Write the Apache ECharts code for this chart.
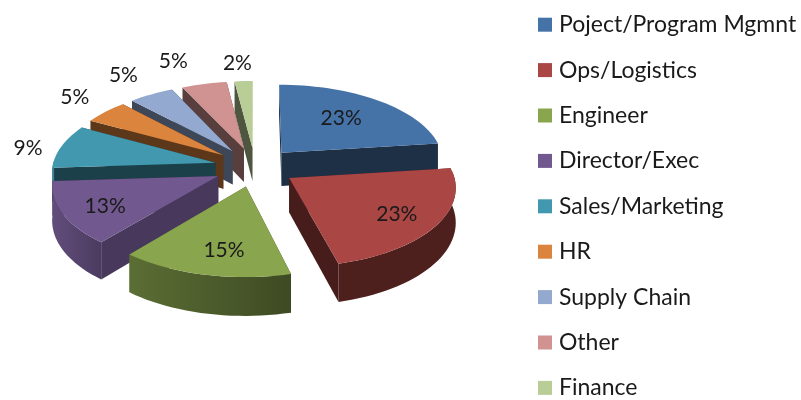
<!DOCTYPE html>
<html>
<head>
<meta charset="utf-8">
<style>
    html, body { margin: 0; padding: 0; background: #fff; }
    #chart { width: 801px; height: 400px; }
</style>
<script src="https://cdn.jsdelivr.net/npm/echarts@6/dist/echarts.min.js"></script>
</head>
<body>
<div id="chart"></div>
<script>
(function() {
    'use strict';

    var categories = ['Poject/Program Mgmnt', 'Ops/Logistics', 'Engineer', 'Director/Exec', 'Sales/Marketing', 'HR', 'Supply Chain', 'Other', 'Finance'];
    var shares = [23, 23, 15, 13, 9, 5, 5, 5, 2];
    var colors = ['#4572a7', '#aa4643', '#89a54e', '#71588f', '#4198af', '#db843d', '#93a9cf', '#d19392', '#b9cd96'];

    // percent labels: how far out in pie radii, and a small turn in degrees off the slice middle
    var labelReach = [0.88, 1.0, 0.98, 1.0, 1.45, 1.57, 1.63, 1.68, 1.55];
    var labelTurn = [-1.5, 0.7, -2.5, -2, -2.5, 1.5, 0, -4, -1];

    // fake 3d: perspective projection of a tilted disc
    var cx = 255, cy = 167;
    var rx = 163, tilt = 77.5, persp = 0.1;
    var depth = 34, explode = 0.25;

    var total = shares.reduce(function(a, b) { return a + b; }, 0);

    function project(u, v, drop) {
        var s = 1 / (1 - persp * v);
        return [cx + rx * u * s, cy + (tilt * v + (drop ? depth : 0)) * s];
    }

    function mix(hex, f) {
        var n = parseInt(hex.slice(1), 16);
        var r = Math.round((n >> 16 & 255) * f);
        var g = Math.round((n >> 8 & 255) * f);
        var b = Math.round((n & 255) * f);
        return 'rgb(' + r + ',' + g + ',' + b + ')';
    }

    // outer wall gets lighter as it turns to the left
    function wallShade(a) {
        var deg = a * 180 / Math.PI;
        var t = Math.min(1, Math.max(0, (deg - 170) / 96));
        return 0.45 + t * 0.42;
    }

    // cut walls are dark, except the one that catches the light at the lower left
    function cutShade(a) {
        var deg = a * 180 / Math.PI;
        return deg > 200 && deg < 240 ? 0.64 : 0.42;
    }

    function sliceRender(index) {
        return function(params, api) {
            var before = shares.slice(0, index).reduce(function(a, b) { return a + b; }, 0);
            var value = api.value(0);
            var a0 = before / total * Math.PI * 2;
            var a1 = (before + value) / total * Math.PI * 2;
            var mid = (a0 + a1) / 2;
            var ox = Math.sin(mid) * explode, oy = -Math.cos(mid) * explode;
            var color = colors[index];

            function rim(a, drop) {
                return project(ox + Math.sin(a), oy - Math.cos(a), drop);
            }
            function arc(from, to, drop) {
                var pts = [];
                var steps = Math.max(4, Math.ceil((to - from) * 24));
                for (var i = 0; i <= steps; i++) {
                    pts.push(rim(from + (to - from) * i / steps, drop));
                }
                return pts;
            }
            function poly(points, fill) {
                return { type: 'polygon', shape: { points: points }, style: { fill: fill } };
            }

            var apex = project(ox, oy, false);
            var apexLow = project(ox, oy, true);
            var wall0 = poly([apex, rim(a0, false), rim(a0, true), apexLow], mix(color, cutShade(a0)));
            var wall1 = poly([apex, rim(a1, false), rim(a1, true), apexLow], mix(color, cutShade(a1)));
            // the cut wall lower on the screen is the one facing us, it goes on top
            var children = rim(a0, false)[1] > rim(a1, false)[1] ? [wall1, wall0] : [wall0, wall1];

            // only the part of the rim that faces the viewer
            var w0 = Math.max(a0, 85 * Math.PI / 180);
            var w1 = Math.min(a1, 272 * Math.PI / 180);
            if (w1 > w0) {
                children.push(poly(arc(w0, w1, false).concat(arc(w0, w1, true).reverse()),
                    new echarts.graphic.LinearGradient(0, 0, 1, 0, [
                        { offset: 0, color: mix(color, wallShade(w1)) },
                        { offset: 1, color: mix(color, wallShade(w0)) }
                    ])));
            }
            children.push(poly([apex].concat(arc(a0, a1, false)), color));

            var la = mid + labelTurn[index] * Math.PI / 180;
            var pos = project(Math.sin(la) * labelReach[index], -Math.cos(la) * labelReach[index], false);
            children.push({
                type: 'text',
                style: {
                    text: value + '%',
                    x: pos[0],
                    y: pos[1],
                    align: 'center',
                    verticalAlign: 'middle',
                    font: '21px Lato',
                    fill: '#1a1a1a'
                },
                z2: 10
            });

            return { type: 'group', children: children };
        };
    }

    // paint from the back of the pie to the front
    var paintOrder = categories.map(function(c, i) {
        var before = shares.slice(0, i).reduce(function(a, b) { return a + b; }, 0);
        return { i: i, v: -Math.cos((before + shares[i] / 2) / total * Math.PI * 2) };
    }).sort(function(a, b) { return a.v - b.v; }).map(function(o) { return o.i; });

    var series = categories.map(function(name, i) {
        return {
            type: 'custom',
            name: name,
            coordinateSystem: 'none',
            z: 2 + paintOrder.indexOf(i),
            itemStyle: { color: colors[i] },
            data: [[shares[i]]],
            renderItem: sliceRender(i),
            silent: true
        };
    });

    var myChart = echarts.init(document.getElementById('chart'));
    myChart.setOption({
        animation: false,
        backgroundColor: '#ffffff',
        legend: {
            orient: 'vertical',
            left: 538,
            top: 12,
            height: 396,
            padding: 0,
            icon: 'rect',
            itemWidth: 14,
            itemHeight: 14,
            itemGap: 20,
            selectedMode: false,
            textStyle: { fontFamily: 'Lato', fontSize: 23, color: '#1a1a1a', padding: [0, 0, 0, 2], lineHeight: 25.4 },
            data: categories
        },
        series: series
    });
})();
</script>
</body>
</html>
